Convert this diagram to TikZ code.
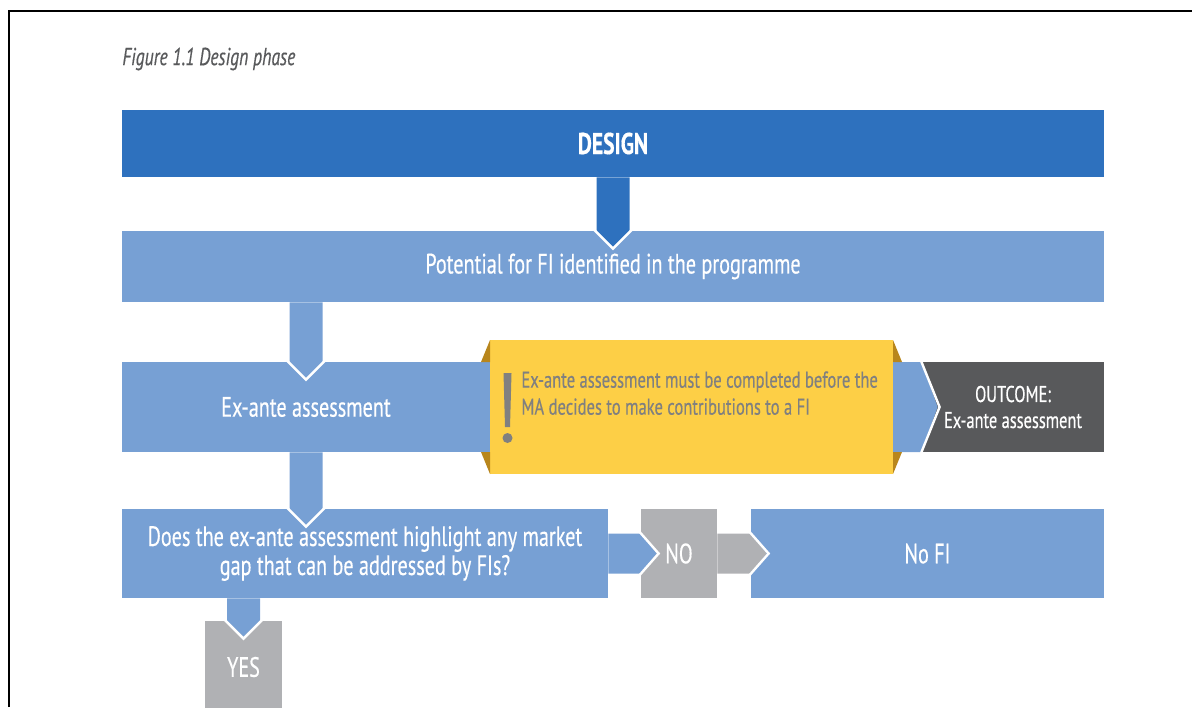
\documentclass[tikz,border=0pt]{standalone}
\usepackage{fontspec}
\setmainfont{PT Sans}[FakeStretch=0.72, FakeBold=0.4]
\usetikzlibrary{calc}
\definecolor{designblue}{RGB}{46,113,190}
\definecolor{stepblue}{RGB}{119,160,212}
\definecolor{outgray}{RGB}{88,89,91}
\definecolor{ansgray}{RGB}{176,177,180}
\definecolor{noteyellow}{RGB}{253,207,70}
\definecolor{notefold}{RGB}{184,134,28}
\definecolor{notetext}{RGB}{128,128,128}
\tikzstyle{bar} = [rectangle, fill=stepblue, text=white, inner sep=0pt, align=center, font=\fontsize{14}{14.5}\selectfont]
\tikzstyle{answer} = [bar, fill=ansgray]
\tikzstyle{vee} = [white, line width=1.2pt, line join=miter]
% vertical connector with a V tip into the target box
\newcommand{\vstem}[3]{%
  \fill[#1] ($(#2)+(-16.5,0)$) -- ($(#2 |- #3.north)+(-16.5,0)$)
    -- ($(#2 |- #3.north)+(0,16)$) -- ($(#2 |- #3.north)+(16.5,0)$)
    -- ($(#2)+(16.5,0)$) -- cycle;
  \draw[vee] ($(#2 |- #3.north)+(-18.5,-0.5)$) -- ($(#2 |- #3.north)+(0,18)$)
    -- ($(#2 |- #3.north)+(18.5,-0.5)$);}
% horizontal connector with a V tip into the target box
\newcommand{\hstem}[4]{%
  \fill[#1] ($(#2)+(0,-#4)$) -- ($(#2 -| #3.west)+(0,-#4)$)
    -- ($(#2 -| #3.west)+(16,0)$) -- ($(#2 -| #3.west)+(0,#4)$)
    -- ($(#2)+(0,#4)$) -- cycle;
  \draw[vee] ($(#2 -| #3.west)+(-0.5,-#4-1)$) -- ($(#2 -| #3.west)+(18,0)$)
    -- ($(#2 -| #3.west)+(-0.5,#4+1)$);}

\begin{document}
\begin{tikzpicture}[x=0.5pt, y=-0.5pt]
  \useasboundingbox (0,0) rectangle (1192,707);
  \draw[line width=0.9pt] (9,707) -- (9,11) -- (1192,11);
  \node (title) [anchor=west, inner sep=0pt, text=outgray, font=\itshape\fontsize{12.3}{14}\selectfont] at (122,59) {Figure 1.1 Design phase};

  \node (design) [bar, fill=designblue, minimum width=491pt, minimum height=33.5pt, font=\bfseries\fontsize{15}{16}\selectfont] at (613,143.5) {DESIGN};
  \node (pot) [bar, below of=design, node distance=61.5pt, minimum width=491pt, minimum height=35.5pt] {Potential for FI identified in the programme};
  \node (exante) [bar, minimum width=184pt, minimum height=45pt] at (306,407) {Ex-ante assessment};
  \node (outcome) [bar, fill=outgray, right of=exante, node distance=353.5pt, minimum width=91pt, minimum height=45pt, font=\fontsize{11.4}{13}\selectfont] {OUTCOME:\\Ex-ante assessment};
  \node (question) [bar, minimum width=243pt, minimum height=44.5pt] at (365,553.5) {Does the ex-ante assessment highlight any market\\gap that can be addressed by FIs?};
  \node (no) [answer, right of=question, node distance=157pt, minimum width=38pt, minimum height=44.5pt] {NO};
  \node (nofi) [bar, right of=no, node distance=124.25pt, minimum width=176.5pt, minimum height=44.5pt] {No FI};
  \node (yes) [answer, minimum width=38.5pt, minimum height=46pt] at (243.5,667) {YES};

  \vstem{designblue}{design.south}{pot}
  \vstem{stepblue}{exante.south |- pot.south}{exante}
  \vstem{stepblue}{exante.south}{question}
  \vstem{stepblue}{yes.north |- question.south}{yes}
  \hstem{stepblue}{question.east}{no}{20}
  \hstem{ansgray}{no.east}{nofi}{20}
  \hstem{stepblue}{exante.east}{outcome}{45}

  \node (note) [rectangle, fill=noteyellow, right of=exante, node distance=192.75pt, minimum width=201.5pt, minimum height=67pt] {};
  \fill[notefold] (490,340) -- (481,362) -- (490,362) -- cycle;
  \fill[notefold] (490,474) -- (481,452) -- (490,452) -- cycle;
  \fill[notefold] (893,340) -- (902,362) -- (893,362) -- cycle;
  \fill[notefold] (893,474) -- (902,452) -- (893,452) -- cycle;
  \fill[notetext] (503.5,373) -- (511.5,373) -- (510,427) -- (505,427) -- cycle;
  \fill[notetext] (507.5,438) circle (5);
  \node (notetxt) [anchor=north west, inner sep=0pt, align=left, text=notetext, font=\fontsize{11.5}{13.5}\selectfont] at (521,371) {Ex-ante assessment must be completed before the\\MA decides to make contributions to a FI};
\end{tikzpicture}
\end{document}
